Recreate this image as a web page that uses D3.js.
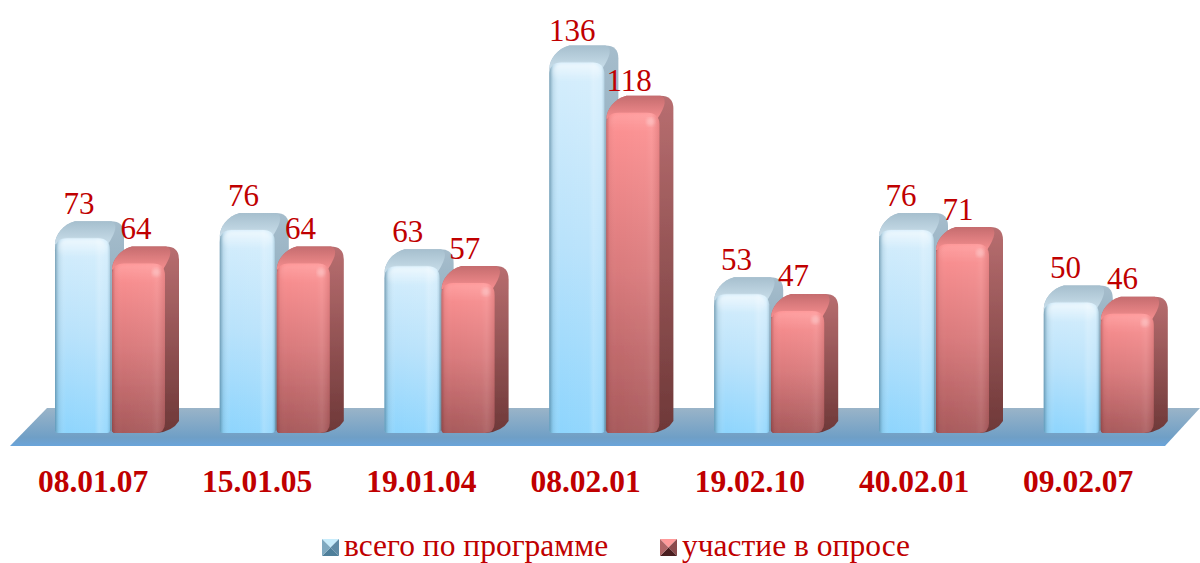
<!DOCTYPE html>
<html><head><meta charset="utf-8">
<script src="https://cdn.jsdelivr.net/npm/d3@7/dist/d3.min.js"></script>
<style>html,body{margin:0;padding:0;background:#fff}svg{display:block}text{font-family:"Liberation Serif",serif;fill:#c00000}</style>
</head><body><svg id="c" width="1200" height="563"></svg>
<script>
const categories=["08.01.07","15.01.05","19.01.04","08.02.01","19.02.10","40.02.01","09.02.07"];
const seriesNames=["всего по программе","участие в опросе"];
const totalValues=[73,76,63,136,53,76,50];
const surveyValues=[64,64,57,118,47,71,46];
const seriesValues=[totalValues,surveyValues];

const svg=d3.select("#c"),defs=svg.append("defs");
const x0=d3.scaleBand().domain(categories).range([30,30+164.8*7]);
const xLabel=d3.scaleBand().domain(categories).range([11,11+164.2*7]);
const xValue=d3.scaleBand().domain(categories).range([30,30+164.4*7]);
const x1=d3.scaleBand().domain([0,1]).range([25,139]);
const y=d3.scaleLinear().domain([0,136]).range([442,62.6]);
const yValue=d3.scaleLinear().domain([0,136]).range([415.5,41]);
const baseY=433,dx=14,dy=17;

function grad(id,stops,horiz){
  const g=defs.append("linearGradient").attr("id",id).attr("x1",0).attr("y1",0)
    .attr("x2",horiz?1:0).attr("y2",horiz?0:1);
  stops.forEach(s=>g.append("stop").attr("offset",s[0]).attr("stop-color",s[1]).attr("stop-opacity",s[2]===undefined?1:s[2]));
}
grad("floor",[[0,"#9ab4c8"],[0.78,"#6f9fc6"],[1,"#6aa4da"]]);
grad("f0",[[0,"#d6eefc"],[0.5,"#b8e2fb"],[1,"#8ed5fd"]]);
grad("f1",[[0,"#ff9394"],[0.5,"#d97a7c"],[1,"#a85a5c"]]);
grad("s0",[[0,"#a6bdcc"],[1,"#6d95ab"]]);
grad("s1",[[0,"#b86e70"],[1,"#6e3838"]]);
grad("t0",[[0,"#a6bfce"],[1,"#c9deea"]]);
grad("t1",[[0,"#c56c6e"],[1,"#f58e8f"]]);
grad("shade",[[0,"#3f6f88",0.6],[0.07,"#6f9ab0",0.2],[0.2,"#fff",0],[0.72,"#fff",0.05],[0.8,"#fff",0.22],[0.94,"#fff",0.1],[1,"#2a5a70",0.2]],true);
grad("shade1",[[0,"#5a1f20",0.3],[0.06,"#5a1f20",0.05],[0.2,"#fff",0],[0.75,"#fff",0.04],[0.85,"#fff",0.09],[1,"#5a1f20",0.12]],true);
grad("cap0",[[0,"#fff",0.55],[1,"#fff",0]]);
grad("cap1",[[0,"#fff",0.12],[1,"#fff",0]]);
const mkBlur=(id,d)=>defs.append("filter").attr("id",id).attr("x","-10%").attr("y","-10%").attr("width","120%").attr("height","120%")
  .append("feGaussianBlur").attr("stdDeviation",d);
mkBlur("soft",0.6);mkBlur("soft2",1.4);

svg.append("path").attr("d","M10,446L1165,446L1200,408L47,408Z").attr("fill","url(#floor)");

function silhouette(x,w,top,base){
  const T=top-dy;
  return `M${x},${top+6}C${x},${top-3} ${x+8},${T+3} ${x+20},${T}`+
  `L${x+w+dx-13},${T}Q${x+w+dx},${T} ${x+w+dx},${T+13}`+
  `L${x+w+dx},${base-12}Q${x+w+dx-6},${base-2} ${x+w-8},${base}L${x+4},${base}Q${x},${base} ${x},${base-3}Z`;
}
function front(x,w,top,base,rb){
  const r=12;
  return `M${x},${top+r}Q${x},${top} ${x+r},${top}L${x+w-r},${top}Q${x+w},${top} ${x+w},${top+r}`+
  `L${x+w},${base-rb}Q${x+w},${base} ${x+w-rb},${base}L${x+3},${base}Q${x},${base} ${x},${base-3}Z`;
}
const bars=svg.append("g");
categories.forEach((c,i)=>{
  const g=bars.append("g").attr("transform",`translate(${x0(c)},0)`).attr("filter","url(#soft)");
  seriesValues.forEach((vals,s)=>{
    const v=vals[i],x=x1(s),fw=s?53:55,top=y(v),base=baseY;
    g.append("path").attr("d",silhouette(x,fw,top,base)).attr("fill",`url(#s${s})`);
    const T=top-dy;
    g.append("path").attr("d",`M${x},${top+6}C${x},${top-3} ${x+8},${T+3} ${x+20},${T}L${x+fw+dx-13},${T}Q${x+fw+dx-3},${T+3} ${x+fw-2},${top+6}Z`).attr("fill",`url(#t${s})`);
    const fp=front(x,fw,top,base,s?10:3);
    g.append("path").attr("d",fp).attr("fill",`url(#f${s})`).attr("filter","url(#soft)");
    g.append("path").attr("d",fp).attr("fill",`url(#${s?"shade1":"shade"})`);
    g.append("rect").attr("x",x+3).attr("y",top+1).attr("width",fw-6).attr("height",18).attr("rx",9).attr("fill",`url(#cap${s})`).attr("filter","url(#soft2)");
    if(s) g.append("circle").attr("cx",x+fw-9).attr("cy",top+9).attr("r",4).attr("fill","#fff").attr("opacity",0.25).attr("filter","url(#soft2)");
  });
});
categories.forEach((c,i)=>{
  seriesValues.forEach((vals,s)=>{
    svg.append("text").attr("x",xValue(c)+x1(s)+24).attr("y",yValue(vals[i]))
      .attr("text-anchor","middle").attr("font-size",31).text(vals[i]);
  });
  svg.append("text").attr("x",xLabel(c)+82).attr("y",492).attr("text-anchor","middle")
    .attr("font-size",31.5).attr("font-weight","bold").text(c);
});
const legendX=[322,660];
const mk=[["#c8ecfb","#5f8aa5","#4f7f9a","#7fa9c0"],["#ff9a9a","#8a4a4c","#4a1f20","#b06566"]];
seriesNames.forEach((n,s)=>{
  const g=svg.append("g").attr("transform",`translate(${legendX[s]},539)`),S=17,m=S/2;
  const p=[[[0,0],[S,0],[m,m]],[[S,0],[S,S],[m,m]],[[S,S],[0,S],[m,m]],[[0,S],[0,0],[m,m]]];
  p.forEach((t,k)=>g.append("polygon").attr("points",t.join(" ")).attr("fill",mk[s][k]));
  svg.append("text").attr("x",legendX[s]+22).attr("y",556).attr("font-size",31.5).text(n);
});
</script></body></html>
